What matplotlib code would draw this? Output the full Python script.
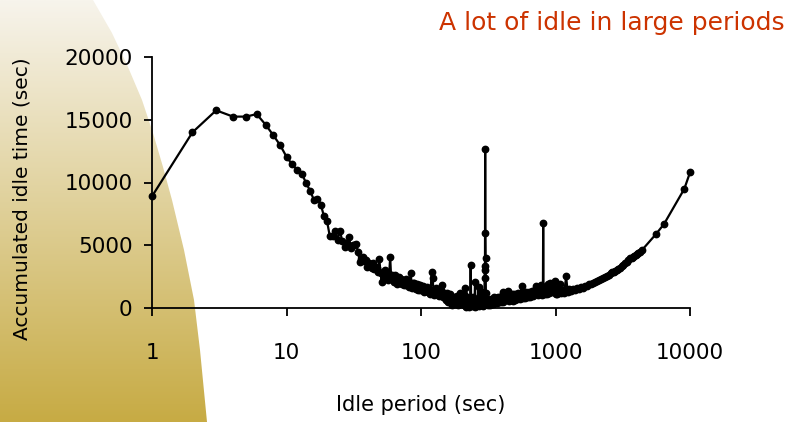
import numpy as np
import matplotlib
matplotlib.use("Agg")
import matplotlib.pyplot as plt
from matplotlib.patches import Polygon
from matplotlib.ticker import NullLocator

# ---------------- data ----------------
period_short = list(range(1, 101))
accum_short = [8900, 14000, 15750, 15250, 15250, 15450, 14600, 13750, 12950, 12050,
               11450, 11000, 10700, 9950, 9330, 8600, 8700, 8240, 7300, 6950,
               5700, 5760, 6150, 5450, 6150, 5300, 4900, 5170, 5650, 4770,
               5000, 5050, 5120, 4500, 3700, 3900, 4050, 3750, 3850, 3300,
               3600, 3450, 3200, 3570, 3100, 3300, 3170, 2900, 3900, 2800,
               2100, 2900, 2400, 3040, 2500, 2800, 2200, 2700, 4050, 2400,
               2600, 2370, 2100, 2600, 2200, 1900, 2400, 2100, 2500, 2000,
               2300, 1900, 2200, 2000, 1800, 2100, 2300, 1800, 2000, 2200,
               1700, 2000, 1800, 2770, 1900, 1600, 1970, 1700, 2000, 1600,
               1800, 1500, 1900, 1650, 1400, 1800, 1550, 1840, 1400, 1650]

period_mid = [102, 104, 106, 108, 110, 112, 114, 116, 118, 120, 122, 124, 126, 128, 130,
              132, 134, 136, 138, 140, 142, 143, 146, 148, 150,
              152, 154, 155, 158, 160, 162, 164, 166, 168, 170, 172, 174, 176, 178, 180,
              182, 184, 186, 188, 190, 192, 195, 196, 198, 200, 202, 204, 206, 208, 210,
              212, 214, 216, 218, 220, 222, 224, 226, 228, 230, 232, 234, 236, 238, 240,
              242, 244, 246, 248, 250, 252, 254, 256, 258, 260, 262, 264, 266, 268, 270,
              272, 274, 276, 278, 280, 282, 284, 286, 288, 290, 292, 294, 296,
              297, 298, 299, 300, 301, 302, 303, 304]
accum_mid = [1450, 1750, 1250, 1550, 1700, 1300, 1500, 1150, 1450, 2830, 2400, 1300, 1000, 1450, 1570,
             1100, 1350, 950, 1250, 1000, 1400, 1840, 900, 1200, 800,
             1050, 650, 1170, 450, 950, 700, 1100, 500, 850, 250, 750, 900, 550, 850, 300,
             650, 950, 450, 750, 200, 600, 1170, 400, 650, 900, 300, 600, 800, 200, 1100,
             1570, 500, 100, 600, 850, 250, 650, 100, 450, 750, 200, 3440, 400, 650, 150,
             500, 850, 250, 550, 100, 2110, 400, 650, 150, 450, 750, 250, 550, 1710, 350,
             150, 550, 250, 700, 300, 1300, 250, 550, 150, 600, 300, 900, 400,
             2370, 3040, 3310, 12640, 5970, 3970, 1200, 500]

period_band = [306, 310, 315, 320, 325, 330, 335, 340, 345, 350, 356, 362, 368, 374, 380,
               386, 392, 398, 404, 409, 414, 420, 426, 434, 441, 448, 456, 464, 472, 480,
               490, 500, 510, 520, 530, 540, 550, 561, 570, 580, 590, 600, 610, 620, 635,
               650, 665, 680, 700, 720, 735, 750, 766, 778, 790, 800, 806, 810, 814, 830,
               850, 870, 880, 895, 910, 925, 940, 960, 975, 990, 1000]
accum_band = [300, 700, 200, 600, 250, 750, 300, 650, 350, 850, 400, 800, 400, 850, 450,
              900, 500, 950, 500, 1300, 600, 1000, 600, 1000, 1390, 550, 1050, 600, 1100, 550,
              1100, 650, 1150, 700, 1200, 750, 1200, 1770, 800, 1250, 800, 1300, 1230, 850, 1300,
              900, 1350, 950, 1400, 1760, 1000, 1400, 1700, 1870, 1050, 1500, 1250, 6770, 1400, 1100,
              1550, 1150, 1920, 1200, 1970, 1250, 1650, 1250, 1650, 2190, 1150]

period_long = [1020, 1050, 1080, 1100, 1130, 1160, 1200, 1230, 1270, 1310, 1350, 1400, 1450,
               1500, 1550, 1610, 1660, 1720, 1780, 1840, 1900, 1960, 2030, 2100, 2180, 2260,
               2340, 2420, 2500, 2580, 2650, 2720, 2780, 2850, 2920, 3000, 3100, 3200, 3300,
               3400, 3480, 3580, 3680, 3760, 3850, 3940, 4030, 4130, 4220, 4400, 5590, 6410,
               9070, 10000]
accum_long = [1100, 1450, 1920, 1200, 1450, 1200, 2510, 1300, 1500, 1350, 1550, 1450, 1600,
              1550, 1650, 1620, 1750, 1780, 1880, 1920, 2000, 2060, 2150, 2220, 2300, 2400,
              2480, 2570, 2660, 2750, 2830, 2900, 2970, 3040, 3120, 3200, 3320, 3440, 3560,
              3700, 3820, 3970, 4020, 4100, 4180, 4250, 4310, 4370, 4450, 4620, 5890, 6690,
              9490, 10800]

x_ticks = [1, 10, 100, 1000, 10000]
x_tick_labels = ["1", "10", "100", "1000", "10000"]
y_ticks = [0, 5000, 10000, 15000, 20000]
y_tick_labels = ["0", "5000", "10000", "15000", "20000"]

title_text = "A lot of idle in large periods"
x_label = "Idle period (sec)"
y_label = "Accumulated idle time (sec)"

period = np.array(period_short + period_mid + period_band + period_long, dtype=float)
accum = np.array(accum_short + accum_mid + accum_band + accum_long, dtype=float)

# ---------------- figure ----------------
W, H = 794, 422
fig = plt.figure(figsize=(W / 100, H / 100), dpi=100)
fig.patch.set_facecolor("white")

# decorative left gradient shape
bg = fig.add_axes([0, 0, 1, 1], zorder=0)
bg.set_xlim(0, W)
bg.set_ylim(H, 0)
bg.axis("off")
top = np.array([247, 244, 236]) / 255.0
bot = np.array([199, 171, 68]) / 255.0
t = np.linspace(0, 1, 256)[:, None]
grad = (top[None, :] * (1 - t) + bot[None, :] * t)
grad = np.repeat(grad[:, None, :], 2, axis=1)
im = bg.imshow(grad, extent=[0, W, H, 0], aspect="auto", interpolation="bilinear")
edge = [(93, 0), (112, 33), (128, 67), (142, 100), (153, 133), (163, 167), (172, 200),
        (184, 250), (194, 300), (200, 350), (207, 422)]
poly = Polygon([(0, 0)] + edge + [(0, H)], closed=True, transform=bg.transData,
               facecolor="none", edgecolor="none")
bg.add_patch(poly)
im.set_clip_path(poly)

# main axes
left, right, bottom_px, top_px = 152, 690, 308, 57
ax = fig.add_axes([left / W, 1 - bottom_px / H, (right - left) / W, (bottom_px - top_px) / H],
                  zorder=1)
ax.patch.set_alpha(0)

ax.plot(period, accum, "-o", color="black", lw=1.6, ms=4.6, clip_on=False, zorder=3)

ax.set_xscale("log")
ax.set_xlim(1, 10000)
ax.set_ylim(0, 20000)
ax.set_xticks(x_ticks)
ax.set_xticklabels(x_tick_labels)
ax.xaxis.set_minor_locator(NullLocator())
ax.set_yticks(y_ticks)
ax.set_yticklabels(y_tick_labels)

for s in ["top", "right"]:
    ax.spines[s].set_visible(False)
for s in ["left", "bottom"]:
    ax.spines[s].set_linewidth(1.3)
    ax.spines[s].set_color("black")

ax.tick_params(axis="both", direction="out", length=6, width=1.3, colors="black",
               labelsize=15.5)
ax.tick_params(axis="x", pad=19)
ax.tick_params(axis="y", pad=8)

ax.set_xlabel(x_label, fontsize=15, labelpad=23)
ax.set_ylabel(y_label, fontsize=14.5)
ax.yaxis.set_label_coords(-(152 - 32) / (690 - 152), (308 - 199) / (308 - 57))

fig.text(785 / W, 1 - 23 / H, title_text, ha="right", va="center",
         fontsize=18, color="#CC3300")

fig.savefig("out.png", dpi=100)
